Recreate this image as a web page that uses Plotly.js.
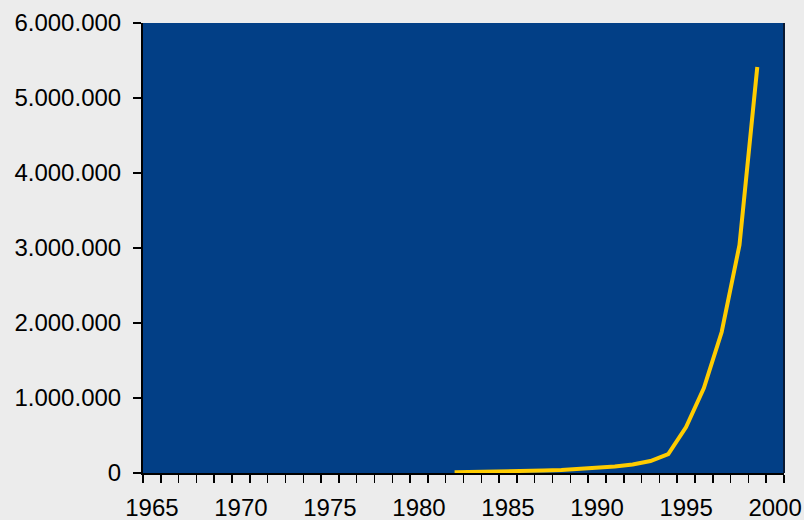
<!DOCTYPE html>
<html>
<head>
<meta charset="utf-8">
<script src="https://cdn.plot.ly/plotly-3.0.1.min.js"></script>
<style>html,body{margin:0;padding:0;background:#ececec;}</style>
</head>
<body>
<div id="chart" style="width:804px;height:520px;"></div>
<script>
const years = [1982,1983,1984,1985,1986,1987,1988,1989,1990,1991,1992,1993,1994,1995,1996,1997,1998,1999];
const values = [10000,12000,15000,20000,27000,33000,40000,53000,67000,87000,113000,160000,253000,613000,1133000,1880000,3040000,5413000];
const xTickVals = [1965,1970,1975,1980,1985,1990,1995,2000];
const yTickVals = [0,1000000,2000000,3000000,4000000,5000000,6000000];

const trace = {
  x: years, y: values, type: 'scatter', mode: 'lines',
  line: {color: '#ffcc00', width: 4}, hoverinfo: 'skip'
};

const layout = {
  width: 804, height: 520,
  margin: {l: 143, r: 20, t: 23, b: 47},
  paper_bgcolor: '#ececec',
  plot_bgcolor: '#023f86',
  separators: ',.',
  showlegend: false,
  font: {family: 'Liberation Sans, Arial, sans-serif', size: 24, color: '#000'},
  xaxis: {
    range: [1964.5, 2000.5],
    tickvals: xTickVals,
    ticktext: xTickVals.map(String),
    ticks: 'outside', ticklen: 8, tickcolor: 'rgba(0,0,0,0)',
    ticklabelstandoff: 4,
    minor: {tick0: 1964.5, dtick: 1, ticks: 'outside', ticklen: 8, tickcolor: '#000', tickwidth: 1.5},
    showgrid: false, zeroline: false,
    showline: true, linecolor: '#000', linewidth: 2, mirror: false
  },
  yaxis: {
    range: [0, 6000000],
    tickvals: yTickVals,
    tickformat: ',d',
    ticks: 'outside', ticklen: 8, tickcolor: '#000', tickwidth: 1.5,
    ticklabelstandoff: 7,
    showgrid: false, zeroline: false,
    showline: true, linecolor: '#000', linewidth: 2, mirror: false
  },
  shapes: [
    {type: 'line', xref: 'paper', yref: 'paper', x0: 1, x1: 1, y0: 0, y1: 1, line: {color: '#0a1a33', width: 2}}
  ]
};

Plotly.newPlot('chart', [trace], layout, {displayModeBar: false, staticPlot: true});
</script>
</body>
</html>
